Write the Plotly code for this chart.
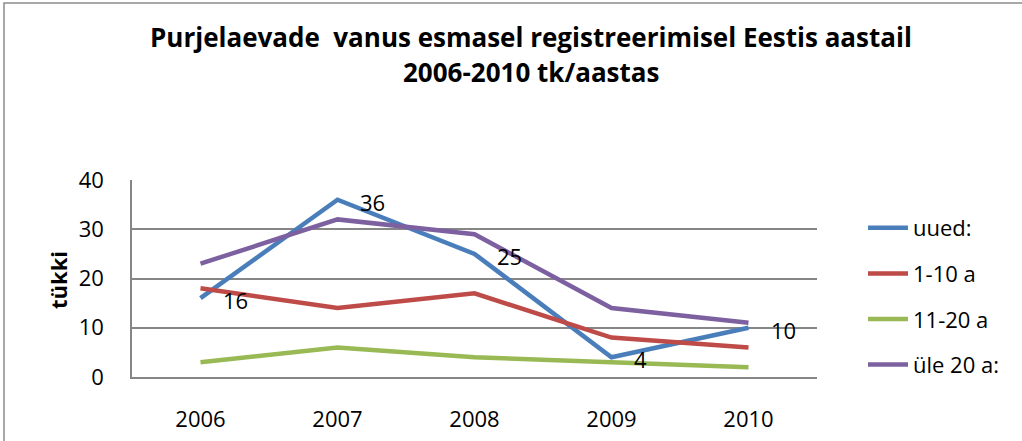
import plotly.graph_objects as go

years = ["2006", "2007", "2008", "2009", "2010"]
series_names = ["uued:", "1-10 a", "11-20 a", "üle 20 a:"]
uued = [16, 36, 25, 4, 10]
a1_10 = [18, 14, 17, 8, 6]
a11_20 = [3, 6, 4, 3, 2]
ule20 = [23, 32, 29, 14, 11]
colors = ["#4A7EBB", "#BE4B48", "#98B954", "#7D60A0"]
y_ticks = [0, 10, 20, 30, 40]
title1 = "Purjelaevade  vanus esmasel registreerimisel Eestis aastail"
title2 = "2006-2010 tk/aastas"
y_title = "tükki"

FONT = "Open Sans"
fig = go.Figure()
for name, vals, col in zip(series_names, [uued, a1_10, a11_20, ule20], colors):
    fig.add_trace(go.Scatter(x=years, y=vals, name=name, mode="lines",
                             line=dict(color=col, width=4.5),
                             legendgroup=name))

# data labels for "uued:"
for i, v in enumerate(uued):
    fig.add_annotation(x=i, y=v, xref="x", yref="y", text=str(v), showarrow=False,
                       xanchor="left", yanchor="middle", xshift=20, yshift=-2,
                       font=dict(family=FONT, size=22, color="#000"))

L, R, T, B = 132, 817, 180, 377
W, H = R - L, B - T

def px(xp):
    return (xp - L) / W

def py(yp):
    return (B - yp) / H

fig.add_annotation(xref="paper", yref="paper", x=px(531), y=py(37), text="<b>" + title1 + "</b>",
                   showarrow=False, xanchor="center", yanchor="middle",
                   font=dict(family=FONT, size=26, color="#000"))
fig.add_annotation(xref="paper", yref="paper", x=px(531), y=py(72), text="<b>" + title2 + "</b>",
                   showarrow=False, xanchor="center", yanchor="middle",
                   font=dict(family=FONT, size=26, color="#000"))
fig.add_annotation(xref="paper", yref="paper", x=px(58), y=py(280), text="<b>" + y_title + "</b>",
                   showarrow=False, textangle=-90, xanchor="center", yanchor="middle",
                   font=dict(family=FONT, size=22, color="#000"))

# chart border
fig.add_shape(type="rect", xref="paper", yref="paper",
              x0=px(4), x1=px(1030), y0=py(450), y1=py(3),
              line=dict(color="#8C8C8C", width=1.5), fillcolor="rgba(0,0,0,0)", layer="below")

fig.update_layout(
    template="none",
    width=1022, height=441,
    margin=dict(l=L, r=1022 - R, t=T, b=441 - B, pad=0, autoexpand=False),
    paper_bgcolor="white", plot_bgcolor="white",
    font=dict(family=FONT, size=22, color="#000"),
    showlegend=True,
    legend=dict(x=px(863), y=py(207), xanchor="left", yanchor="top",
                tracegroupgap=14, traceorder="grouped",
                font=dict(family=FONT, size=22, color="#000"),
                bgcolor="rgba(0,0,0,0)", borderwidth=0, itemwidth=40),
)
fig.update_xaxes(type="category", range=[-0.5, 4.5], showgrid=False, automargin=False,
                 showline=True, linecolor="#868686", linewidth=1.5,
                 ticks="", ticklabelstandoff=22, tickfont=dict(size=22))
fig.update_yaxes(range=[0, 40], tickvals=y_ticks, showgrid=True, gridcolor="#868686", gridwidth=1.5,
                 showline=True, linecolor="#868686", linewidth=1.5, zeroline=False, automargin=False,
                 ticks="", ticklabelstandoff=22, tickfont=dict(size=22))

fig.write_html("out.html", config={"displayModeBar": False},
               post_script="document.body.style.margin='0';document.body.style.overflow='hidden';")
